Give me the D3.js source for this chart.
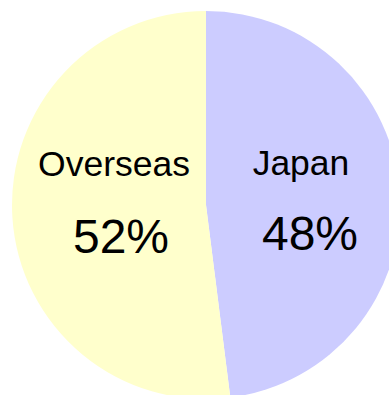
<!DOCTYPE html>
<html>
<head>
<meta charset="utf-8">
<script src="https://cdn.jsdelivr.net/npm/d3@7"></script>
<style>
  html, body { margin: 0; padding: 0; background: #ffffff; }
  svg { display: block; }
</style>
</head>
<body>
<svg id="chart" width="389" height="395"></svg>
<script>
// Sales split by region
const categories = ["Japan", "Overseas"];
const shares = [48, 52];
const colors = ["#CCCCFF", "#FFFFCC"];

const width = 389, height = 395;
const cx = 206, cy = 205, radius = 194;

const svg = d3.select("#chart");
const g = svg.append("g").attr("transform", `translate(${cx},${cy})`);

const data = categories.map((c, i) => ({ name: c, value: shares[i], color: colors[i] }));

const pie = d3.pie().sort(null).value(d => d.value);
const arc = d3.arc().innerRadius(0).outerRadius(radius);

const arcs = pie(data);

g.selectAll("path.slice")
  .data(arcs)
  .join("path")
  .attr("class", "slice")
  .attr("d", arc)
  .attr("fill", d => d.data.color);

// Label offsets per slice: name line and percentage line
const labelPos = {
  Japan:    { name: [95, -30], pct: [104, 45] },
  Overseas: { name: [-92, -29], pct: [-85, 48] }
};

const labels = g.selectAll("g.label")
  .data(arcs)
  .join("g")
  .attr("class", "label");

labels.append("text")
  .attr("x", d => labelPos[d.data.name].name[0])
  .attr("y", d => labelPos[d.data.name].name[1])
  .attr("text-anchor", "middle")
  .attr("font-family", "Liberation Sans, Arial, sans-serif")
  .attr("font-size", 35.5)
  .attr("fill", "#000")
  .text(d => d.data.name);

labels.append("text")
  .attr("x", d => labelPos[d.data.name].pct[0])
  .attr("y", d => labelPos[d.data.name].pct[1])
  .attr("text-anchor", "middle")
  .attr("font-family", "Liberation Sans, Arial, sans-serif")
  .attr("font-size", 48)
  .attr("fill", "#000")
  .text(d => d.data.value + "%");
</script>
</body>
</html>
